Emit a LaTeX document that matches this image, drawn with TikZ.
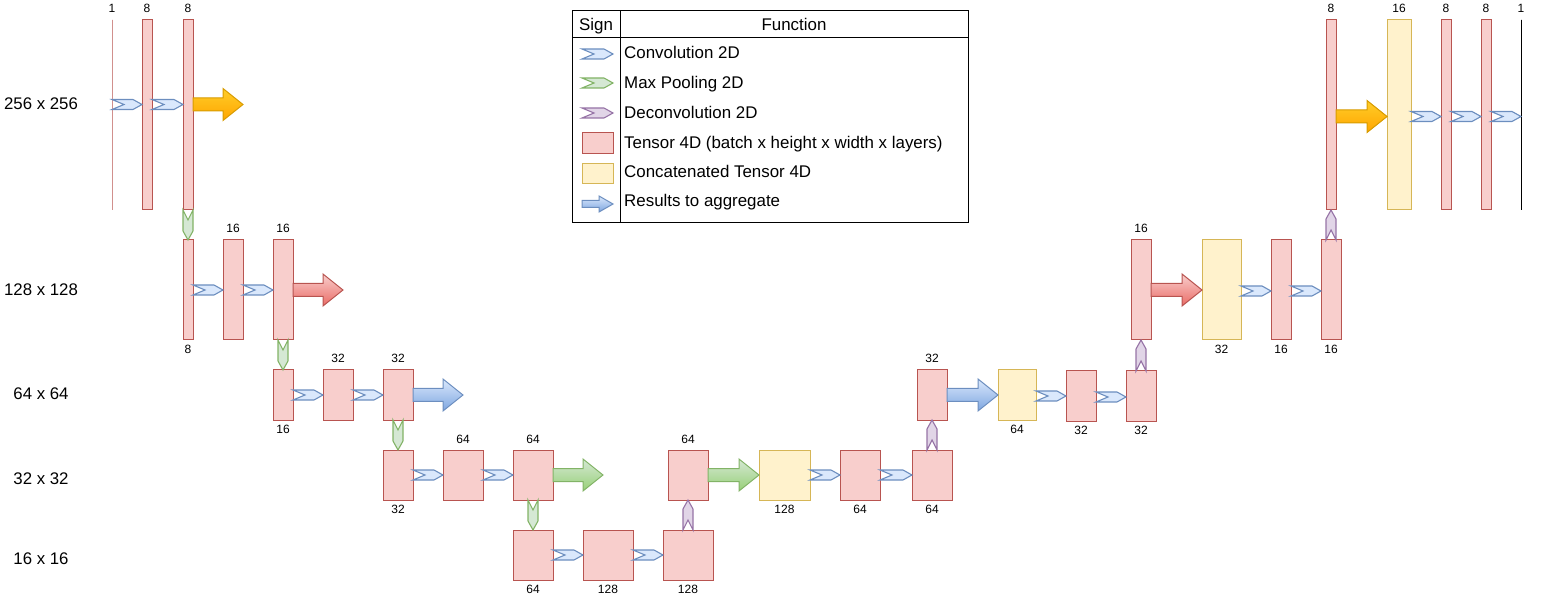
\documentclass[tikz,border=0pt]{standalone}
\usepackage{fontspec}
\setmainfont{Liberation Sans}
\usetikzlibrary{calc}
\definecolor{tred}{HTML}{B85450}
\definecolor{tfill}{HTML}{F8CECC}
\definecolor{yline}{HTML}{D6B656}
\definecolor{yfill}{HTML}{FFF2CC}
\definecolor{cblue}{HTML}{6C8EBF}
\definecolor{cbluef}{HTML}{DAE8FC}
\definecolor{gline}{HTML}{82B366}
\definecolor{gfill}{HTML}{D5E8D4}
\definecolor{pline}{HTML}{9673A6}
\definecolor{pfill}{HTML}{E1D5E7}
\definecolor{ostroke}{HTML}{D79B00}
\definecolor{otop}{HTML}{FFCD28}
\definecolor{obot}{HTML}{FFA500}
\definecolor{rbot}{HTML}{EA6B66}
\definecolor{bbot}{HTML}{7EA6E0}
\definecolor{gbot}{HTML}{97D077}

% tensor box: style, x1, y1, x2, y2, name
\newcommand\tensorbox[6]{\node[#1, minimum width={#4-#2}, minimum height={#5-#3}] (#6) at (#2,#3) {};}
\newcommand\toplbl[3]{\node[lbl] (#1) at ([yshift=7pt]#2.north) {#3};}
\newcommand\botlbl[3]{\node[lbl] (#1) at ([yshift=-13.5pt]#2.south) {#3};}
% horizontal chevron: style, start, end
\newcommand\chevR[3]{\path[#1] let \p1=(#2), \p2=(#3) in
  (\x1,\y1+5pt) -- (\x2-9pt,\y1+5pt) -- (\x2,\y1) -- (\x2-9pt,\y1-5pt) -- (\x1,\y1-5pt) -- (\x1+12pt,\y1) -- cycle;}
% downward chevron
\newcommand\chevD[3]{\path[#1] let \p1=(#2), \p2=(#3) in
  (\x1-5pt,\y1) -- (\x1,\y1-10pt) -- (\x1+5pt,\y1) -- (\x1+5pt,\y2+9pt) -- (\x1,\y2) -- (\x1-5pt,\y2+9pt) -- cycle;}
% upward chevron
\newcommand\chevU[3]{\path[#1] let \p1=(#2), \p2=(#3) in
  (\x1-5pt,\y1) -- (\x1,\y1+10pt) -- (\x1+5pt,\y1) -- (\x1+5pt,\y2-9pt) -- (\x1,\y2) -- (\x1-5pt,\y2-9pt) -- cycle;}
% block arrow: style, start, end, shaft half, head half, head length
\newcommand\bigarrow[6]{\path[#1] let \p1=(#2), \p2=(#3) in
  (\x1,\y1+#4) -- (\x2-#6,\y1+#4) -- (\x2-#6,\y1+#5) -- (\x2,\y1) -- (\x2-#6,\y1-#5) -- (\x2-#6,\y1-#4) -- (\x1,\y1-#4) -- cycle;}

\begin{document}
\begin{tikzpicture}[x=1pt,y=-1pt,
  tensor/.style={draw=tred, fill=tfill, line width=1pt, inner sep=0pt, outer sep=0pt, anchor=north west},
  concat/.style={tensor, draw=yline, fill=yfill},
  thinline/.style={tensor, fill=none},
  lbl/.style={font=\fontsize{12}{14}\selectfont, inner sep=0pt, anchor=base},
  rowlbl/.style={font=\fontsize{16.8}{20}\selectfont, inner sep=0pt},
  legtxt/.style={font=\fontsize{16.9}{20}\selectfont, inner sep=0pt, anchor=base west},
  conv/.style={draw=cblue, fill=cbluef, line width=1.1pt},
  pool/.style={draw=gline, fill=gfill, line width=1.1pt},
  deconv/.style={draw=pline, fill=pfill, line width=1.1pt},
  orangearr/.style={draw=ostroke, top color=otop, bottom color=obot, line width=1pt},
  redarr/.style={draw=tred, top color=tfill, bottom color=rbot, line width=1pt},
  bluearr/.style={draw=cblue, top color=cbluef, bottom color=bbot, line width=1pt},
  greenarr/.style={draw=gline, top color=gfill, bottom color=gbot, line width=1pt},
  tablestyle/.style={draw=black, line width=1pt}
]
\useasboundingbox (0,0) rectangle (1542,601);

% row labels
\node[rowlbl] (r256) at (41,104) {256 x 256};
\node[rowlbl] (r128) at (41,290) {128 x 128};
\node[rowlbl] (r64) at (41,394) {64 x 64};
\node[rowlbl] (r32) at (41,479) {32 x 32};
\node[rowlbl] (r16) at (41,559) {16 x 16};

% tensors
\tensorbox{thinline}{112}{20}{112}{210}{A0}
\tensorbox{tensor}{142}{20}{152}{210}{A1}
\tensorbox{tensor}{183}{20}{193}{210}{A2}
\tensorbox{tensor}{183}{240}{193}{340}{B0}
\tensorbox{tensor}{223}{240}{243}{340}{B1}
\tensorbox{tensor}{273}{240}{293}{340}{B2}
\tensorbox{tensor}{273}{370}{293}{420}{C0}
\tensorbox{tensor}{323}{370}{353}{420}{C1}
\tensorbox{tensor}{383}{370}{413}{420}{C2}
\tensorbox{tensor}{383}{450}{413}{500}{D0}
\tensorbox{tensor}{443}{450}{483}{500}{D1}
\tensorbox{tensor}{513}{450}{553}{500}{D2}
\tensorbox{tensor}{513}{530}{553}{580}{E0}
\tensorbox{tensor}{583}{530}{633}{580}{E1}
\tensorbox{tensor}{663}{530}{713}{580}{E2}
\tensorbox{tensor}{668}{450}{708}{500}{F0}
\tensorbox{concat}{759}{450}{810}{500}{F1}
\tensorbox{tensor}{840}{450}{880}{500}{F2}
\tensorbox{tensor}{912}{450}{952}{500}{F3}
\tensorbox{tensor}{917}{370}{947}{420}{G0}
\tensorbox{concat}{998}{370}{1036}{420}{G1}
\tensorbox{tensor}{1066}{371}{1096}{421}{G2}
\tensorbox{tensor}{1126}{371}{1156}{421}{G3}
\tensorbox{tensor}{1131}{240}{1151}{340}{H0}
\tensorbox{concat}{1202}{240}{1241}{340}{H1}
\tensorbox{tensor}{1271}{240}{1291}{340}{H2}
\tensorbox{tensor}{1321}{240}{1341}{340}{H3}
\tensorbox{tensor}{1326}{20}{1336}{210}{I0}
\tensorbox{concat}{1387}{20}{1411}{210}{I1}
\tensorbox{tensor}{1441}{20}{1451}{210}{I2}
\tensorbox{tensor}{1481}{20}{1491}{210}{I3}
\tensorbox{thinline,draw=black}{1521}{20}{1521}{210}{I4}

% size labels
\toplbl{lA0}{A0}{1}
\toplbl{lA1}{A1}{8}
\toplbl{lA2}{A2}{8}
\botlbl{lB0}{B0}{8}
\toplbl{lB1}{B1}{16}
\toplbl{lB2}{B2}{16}
\botlbl{lC0}{C0}{16}
\toplbl{lC1}{C1}{32}
\toplbl{lC2}{C2}{32}
\botlbl{lD0}{D0}{32}
\toplbl{lD1}{D1}{64}
\toplbl{lD2}{D2}{64}
\botlbl{lE0}{E0}{64}
\botlbl{lE1}{E1}{128}
\botlbl{lE2}{E2}{128}
\toplbl{lF0}{F0}{64}
\botlbl{lF1}{F1}{128}
\botlbl{lF2}{F2}{64}
\botlbl{lF3}{F3}{64}
\toplbl{lG0}{G0}{32}
\botlbl{lG1}{G1}{64}
\botlbl{lG2}{G2}{32}
\botlbl{lG3}{G3}{32}
\toplbl{lH0}{H0}{16}
\botlbl{lH1}{H1}{32}
\botlbl{lH2}{H2}{16}
\botlbl{lH3}{H3}{16}
\toplbl{lI0}{I0}{8}
\toplbl{lI1}{I1}{16}
\toplbl{lI2}{I2}{8}
\toplbl{lI3}{I3}{8}
\toplbl{lI4}{I4}{1}

% free ends of block arrows
\coordinate (tA) at (243,104.5);
\coordinate (tB) at (343,290);
\coordinate (tC) at (463,395);
\coordinate (tD) at (603,475);

% convolutions
\chevR{conv}{[yshift=10.5pt]A0.east}{A1.west}
\chevR{conv}{[yshift=10.5pt]A1.east}{A2.west}
\chevR{conv}{B0.east}{B1.west}
\chevR{conv}{B1.east}{B2.west}
\chevR{conv}{C0.east}{C1.west}
\chevR{conv}{C1.east}{C2.west}
\chevR{conv}{D0.east}{D1.west}
\chevR{conv}{D1.east}{D2.west}
\chevR{conv}{E0.east}{E1.west}
\chevR{conv}{E1.east}{E2.west}
\chevR{conv}{F1.east}{F2.west}
\chevR{conv}{F2.east}{F3.west}
\chevR{conv}{[yshift=-1pt]G1.east}{G2.west}
\chevR{conv}{[yshift=-1pt]G2.east}{G3.west}
\chevR{conv}{[yshift=-1pt]H1.east}{H2.west}
\chevR{conv}{[yshift=-1pt]H2.east}{H3.west}
\chevR{conv}{[yshift=-1.5pt]I1.east}{I2.west}
\chevR{conv}{[yshift=-1.5pt]I2.east}{I3.west}
\chevR{conv}{[yshift=-1.5pt]I3.east}{I4.west}

% max pooling
\chevD{pool}{A2.south}{B0.north}
\chevD{pool}{B2.south}{C0.north}
\chevD{pool}{C2.south}{D0.north}
\chevD{pool}{D2.south}{E0.north}

% deconvolution
\chevU{deconv}{E2.north}{F0.south}
\chevU{deconv}{F3.north}{G0.south}
\chevU{deconv}{G3.north}{H0.south}
\chevU{deconv}{H3.north}{I0.south}

% results to aggregate
\bigarrow{orangearr}{[yshift=10.5pt]A2.east}{tA}{6.5pt}{16pt}{20pt}
\bigarrow{redarr}{B2.east}{tB}{6.5pt}{16pt}{20pt}
\bigarrow{bluearr}{C2.east}{tC}{6.5pt}{16pt}{20pt}
\bigarrow{greenarr}{D2.east}{tD}{6.5pt}{16pt}{20pt}
\bigarrow{greenarr}{F0.east}{F1.west}{6.5pt}{16pt}{20pt}
\bigarrow{bluearr}{G0.east}{G1.west}{6.5pt}{16pt}{20pt}
\bigarrow{redarr}{H0.east}{H1.west}{6.5pt}{16pt}{20pt}
\bigarrow{orangearr}{[yshift=-1.5pt]I0.east}{I1.west}{6.5pt}{16pt}{20pt}

% legend table
\draw[tablestyle] (572,11) rectangle (968,223);
\draw[tablestyle] (620,11) -- (620,223);
\draw[tablestyle] (572,38) -- (968,38);
\node[legtxt, anchor=base] (hsign) at (596,30.5) {Sign};
\node[legtxt, anchor=base] (hfunc) at (794,30.5) {Function};
\node[legtxt] (t1) at (624,59) {Convolution 2D};
\node[legtxt] (t2) at (624,89) {Max Pooling 2D};
\node[legtxt] (t3) at (624,119) {Deconvolution 2D};
\node[legtxt] (t4) at (624,149) {Tensor 4D (batch x height x width x layers)};
\node[legtxt] (t5) at (624,178) {Concatenated Tensor 4D};
\node[legtxt] (t6) at (624,207) {Results to aggregate};
\coordinate (k1a) at (582,54); \coordinate (k1b) at (613,54);
\coordinate (k2a) at (582,83); \coordinate (k2b) at (613,83);
\coordinate (k3a) at (582,113); \coordinate (k3b) at (613,113);
\coordinate (k6a) at (582,204); \coordinate (k6b) at (613,204);
\chevR{conv}{k1a}{k1b}
\chevR{pool}{k2a}{k2b}
\chevR{deconv}{k3a}{k3b}
\tensorbox{tensor}{582}{133}{613}{154}{legT}
\tensorbox{concat}{582}{164}{613}{184}{legC}
\bigarrow{bluearr}{k6a}{k6b}{3.5pt}{8pt}{14pt}
\end{tikzpicture}
\end{document}
